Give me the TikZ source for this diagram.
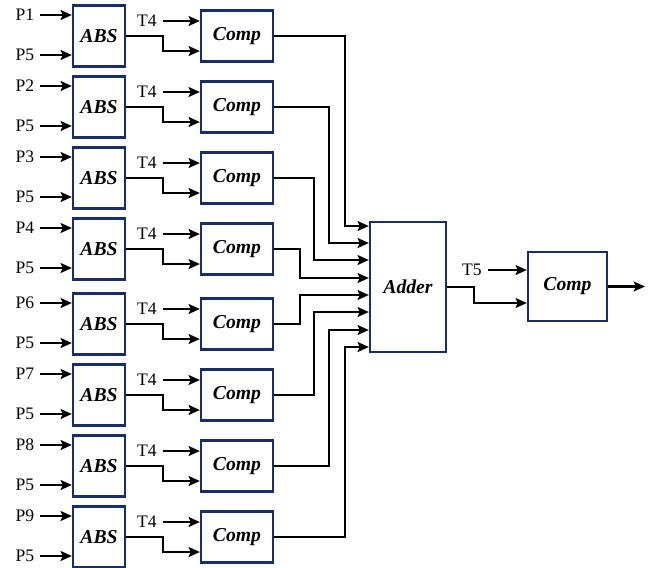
\documentclass[tikz,border=0pt]{standalone}
\usepackage{fontspec}
\setmainfont{Liberation Serif}
\usepackage{xcolor}
\definecolor{BoxNavy}{RGB}{25,45,105}
\usetikzlibrary{arrows.meta, positioning, calc}
\tikzset{
  % Generic block
  blk/.style={
    rectangle, draw=BoxNavy, line width=1.6pt,
    fill=white, align=center,
    font=\fontsize{14}{16}\selectfont\bfseries\itshape,
    inner sep=2pt
  },
  % Block variants
  absbox/.style={blk, minimum width=1.3cm, minimum height=1.525cm},
  compbox/.style={blk, minimum width=1.8cm, minimum height=1.275cm},
  addbox/.style={blk, minimum width=1.9cm, minimum height=3.25cm},
  finalbox/.style={blk, minimum width=1.975cm, minimum height=1.725cm},
  % Signal label
  sig/.style={font=\fontsize{12.5}{14}\selectfont, inner xsep=4pt, inner ysep=1pt},
  % Arrows
  arr/.style={-{Stealth[length=8pt,width=7pt,inset=1.5pt]}, line width=1.6pt},
}

\begin{document}
\begin{tikzpicture}[x=0.025cm, y=-0.025cm]
  \useasboundingbox (0,0) rectangle (654,568);

  %% Adder and last comparator
  \node[addbox] (add) at (408,287) {Adder};
  \node[finalbox] (cmpT) at (567.5,286.5) {Comp};

  %% Eight channels: ABS -> Comp -> Adder
  \foreach \i/\cy/\p/\vx/\ay in {
    1/36/P1/345/226,
    2/107/P2/329/243,
    3/178/P3/314/260,
    4/249/P4/300/278,
    5/324/P6/300/295,
    6/395/P7/314/312,
    7/466/P8/329/330,
    8/537/P9/345/347}{
    \node[absbox] (abs\i) at (99,\cy) {ABS};
    \node[compbox] (cmp\i) at (237,\cy) {Comp};
    \node[sig] (p\i) at (25,\cy-21) {\p};
    \node[sig] (q\i) at (25,\cy+19) {P5};
    \node[sig] (t\i) at (147,\cy-15) {T4};
    \draw[arr] (p\i.east) -- (p\i.east -| abs\i.west);
    \draw[arr] (q\i.east) -- (q\i.east -| abs\i.west);
    \draw[arr] (t\i.east) -- (t\i.east -| cmp\i.west);
    \draw[arr] (abs\i.east) -- ++(37,0) |- ($(cmp\i.west)+(0,15)$);
    \coordinate (in\i) at (add.west |- 0,\ay);
    \draw[arr] (cmp\i.east) -| (\vx,\ay) -- (in\i);
  }

  %% Threshold and output
  \node[sig] (t5) at (472,270) {T5};
  \draw[arr] (t5.east) -- (t5.east -| cmpT.west);
  \draw[arr] (add.east) -- ++(27,0) |- ($(cmpT.west)+(0,16.5)$);
  \coordinate (out) at (645,286.5);
  \draw[arr] (cmpT.east) -- (out);
\end{tikzpicture}
\end{document}
